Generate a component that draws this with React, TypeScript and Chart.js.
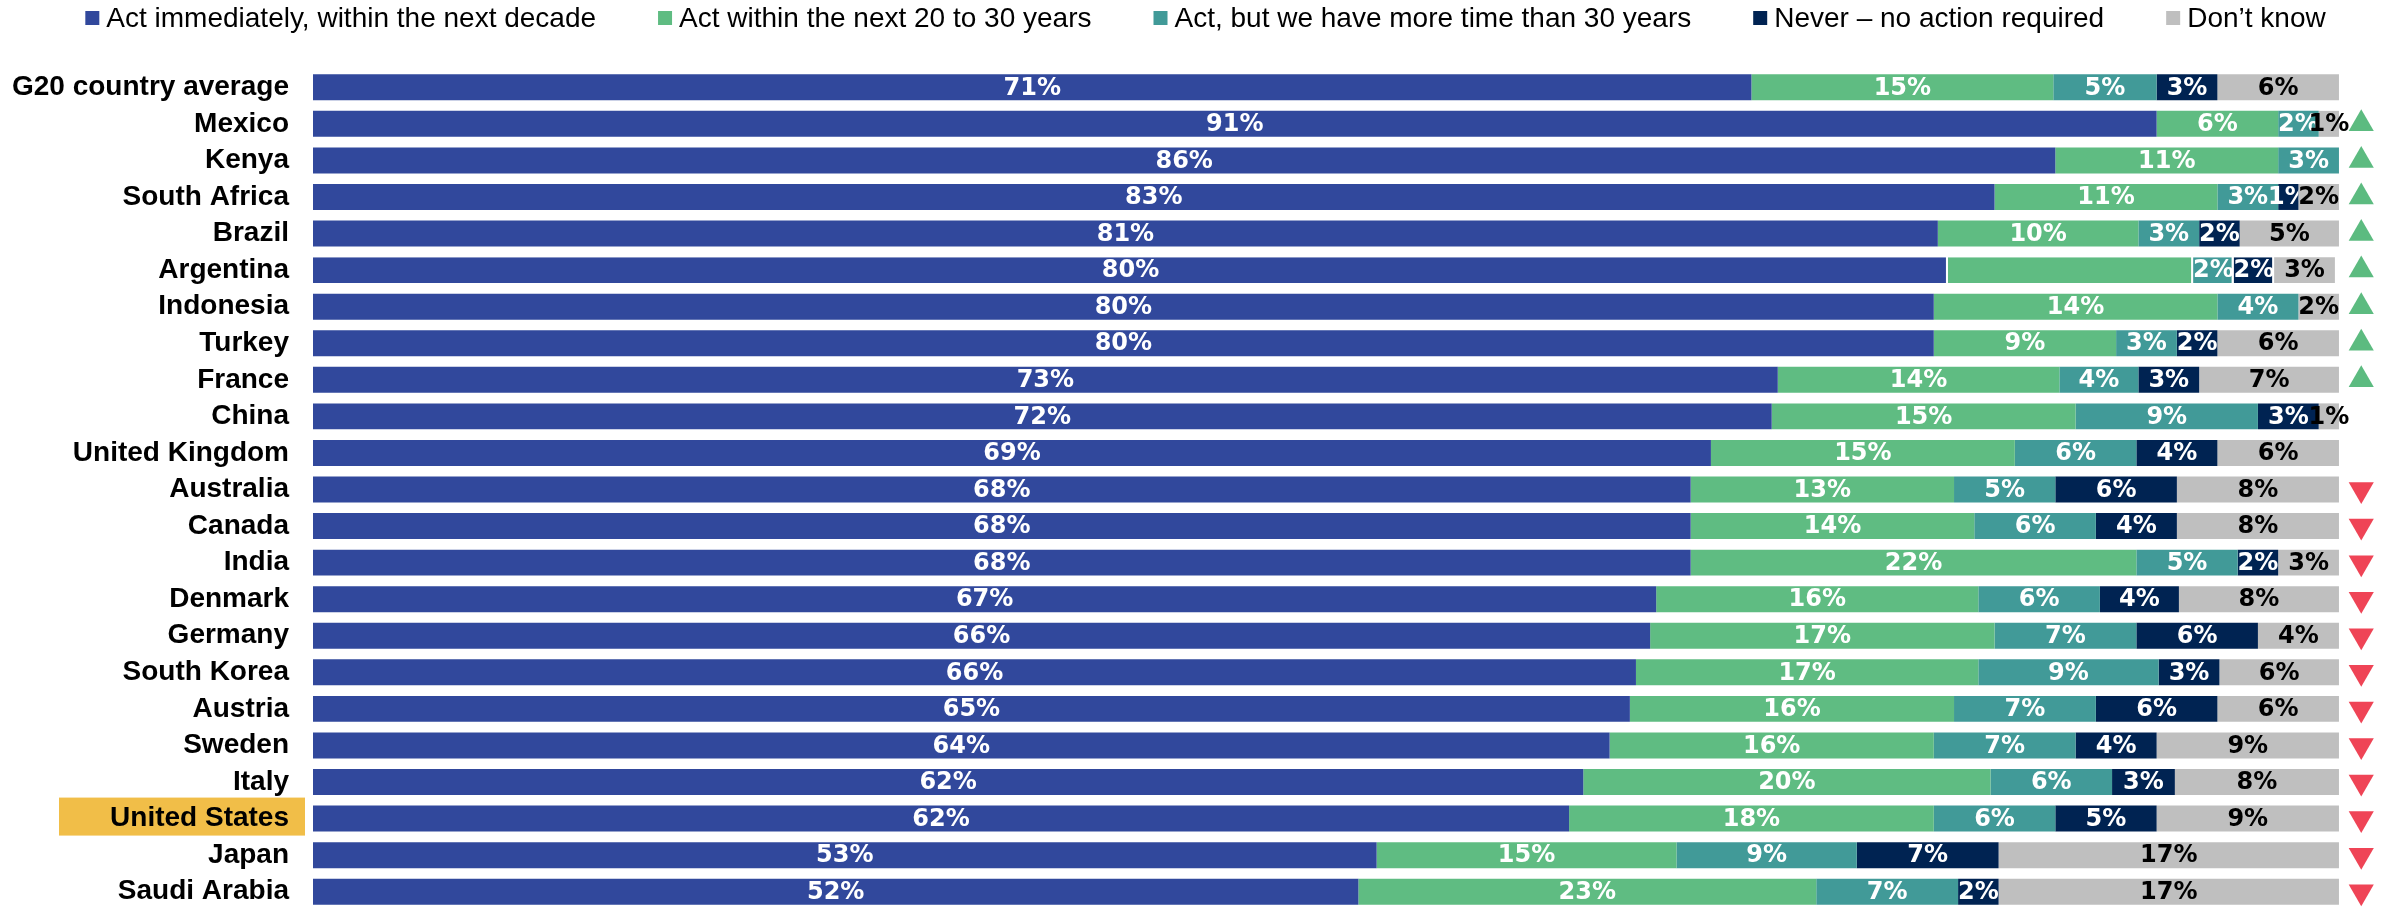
import React, { useEffect, useRef } from "react";
import { Chart, registerables } from "chart.js";

Chart.register(...registerables);

// ---------- data ----------
const countries = [
  "G20 country average",
  "Mexico",
  "Kenya",
  "South Africa",
  "Brazil",
  "Argentina",
  "Indonesia",
  "Turkey",
  "France",
  "China",
  "United Kingdom",
  "Australia",
  "Canada",
  "India",
  "Denmark",
  "Germany",
  "South Korea",
  "Austria",
  "Sweden",
  "Italy",
  "United States",
  "Japan",
  "Saudi Arabia",
];

const seriesNames = [
  "Act immediately, within the next decade",
  "Act within the next 20 to 30 years",
  "Act, but we have more time than 30 years",
  "Never \u2013 no action required",
  "Don\u2019t know",
];

// segment lengths (percent of respondents)
const actNow = [71, 91, 86, 83, 80.2, 80.7, 80, 80, 72.3, 72, 69, 68, 68, 68, 66.3, 66, 65.3, 65, 64, 62.7, 62, 52.5, 51.6];
const act20to30 = [14.9, 6, 11, 11, 9.9, 12.1, 14, 9, 13.9, 15, 15, 13, 14, 22, 15.9, 17, 16.9, 16, 16, 20.1, 18, 14.8, 22.6];
const actLater = [5.1, 2, 3, 3, 3, 2, 4, 3, 3.9, 9, 6, 5, 6, 5, 6, 7, 8.9, 7, 7, 6, 6, 8.9, 7];
const never = [3, 0, 0, 1, 2, 2, 0, 2, 3, 3, 4, 6, 4, 2, 3.9, 6, 3, 6, 4, 3.1, 5, 7, 2];
const dontKnow = [6, 1, 0, 2, 4.9, 3, 2, 6, 6.9, 1, 6, 8, 8, 3, 7.9, 4, 5.9, 6, 9, 8.1, 9, 16.8, 16.8];

// printed labels (null = no label shown)
const actNowLabels = [71, 91, 86, 83, 81, 80, 80, 80, 73, 72, 69, 68, 68, 68, 67, 66, 66, 65, 64, 62, 62, 53, 52];
const act20to30Labels = [15, 6, 11, 11, 10, null, 14, 9, 14, 15, 15, 13, 14, 22, 16, 17, 17, 16, 16, 20, 18, 15, 23];
const actLaterLabels = [5, 2, 3, 3, 3, 2, 4, 3, 4, 9, 6, 5, 6, 5, 6, 7, 9, 7, 7, 6, 6, 9, 7];
const neverLabels = [3, null, null, 1, 2, 2, null, 2, 3, 3, 4, 6, 4, 2, 4, 6, 3, 6, 4, 3, 5, 7, 2];
const dontKnowLabels = [6, 1, null, 2, 5, 3, 2, 6, 7, 1, 6, 8, 8, 3, 8, 4, 6, 6, 9, 8, 9, 17, 17];

// change vs. earlier wave: "up", "down" or ""
const trend = ["", "up", "up", "up", "up", "up", "up", "up", "up", "", "", "down", "down", "down", "down", "down", "down", "down", "down", "down", "down", "down", "down"];

const highlighted = "United States";
const outlinedRow = "Argentina";

// ---------- styling ----------
const seriesValues = [actNow, act20to30, actLater, never, dontKnow];
const seriesLabels = [actNowLabels, act20to30Labels, actLaterLabels, neverLabels, dontKnowLabels];
const seriesColors = ["#31489C", "#5FBC82", "#419A98", "#002352", "#BFBFBF"];
const labelColors = ["#ffffff", "#ffffff", "#ffffff", "#ffffff", "#000000"];
const X_MAX = 102.47; // leaves room on the right for the trend markers
const TREND_X = 101.1;
const UP_COLOR = "#5CBB80";
const DOWN_COLOR = "#EF4456";
const SANS = '"Liberation Sans", Arial, Helvetica, sans-serif';
const LABEL_FONT = 'bold 24px "DejaVu Sans", Verdana, sans-serif';

const highlightPlugin = {
  id: "rowHighlight",
  beforeDraw(chart: any) {
    const idx = countries.indexOf(highlighted);
    if (idx < 0) return;
    const ys = chart.scales.y;
    const cy = ys.getPixelForValue(idx);
    const left = chart.chartArea.left;
    const ctx = chart.ctx;
    ctx.save();
    ctx.fillStyle = "#F1BE48";
    ctx.fillRect(left - 254, cy - 21, 246, 38);
    ctx.restore();
  },
};

const segmentLabelPlugin = {
  id: "segmentLabels",
  afterDatasetsDraw(chart: any) {
    const ctx = chart.ctx;
    ctx.save();
    ctx.font = LABEL_FONT;
    ctx.textAlign = "center";
    ctx.textBaseline = "middle";
    seriesValues.forEach((vals, d) => {
      const meta = chart.getDatasetMeta(d);
      meta.data.forEach((el: any, i: number) => {
        const lab = seriesLabels[d][i];
        if (lab === null || lab === undefined) return;
        const x = el.x;
        const base = el.base;
        const y = el.y;
        const cx = (x + base) / 2;
        const hasNext = seriesValues.slice(d + 1).some((v) => v[i] > 0);
        ctx.save();
        if (hasNext) {
          ctx.beginPath();
          ctx.rect(0, y - 30, x, 60);
          ctx.clip();
        }
        ctx.fillStyle = labelColors[d];
        ctx.fillText(`${lab}%`, cx, y + 1);
        ctx.restore();
      });
    });
    ctx.restore();
  },
};

const legendPlugin = {
  id: "topLegend",
  afterDraw(chart: any) {
    const ctx = chart.ctx;
    ctx.save();
    ctx.font = `28px ${SANS}`;
    ctx.textBaseline = "alphabetic";
    ctx.textAlign = "left";
    const box = 14;
    const gapText = 7;
    const gapItem = 62;
    const widths = seriesNames.map((n) => ctx.measureText(n).width);
    const total = widths.reduce((a, w) => a + box + gapText + w, 0) + gapItem * (seriesNames.length - 1);
    let x = (chart.width - total) / 2 + 11;
    seriesNames.forEach((n, i) => {
      ctx.fillStyle = seriesColors[i];
      ctx.fillRect(x, 11, box, box);
      ctx.fillStyle = "#000000";
      ctx.fillText(n, x + box + gapText, 27);
      x += box + gapText + widths[i] + gapItem;
    });
    ctx.restore();
  },
};

export default function App() {
  const canvasRef = useRef<HTMLCanvasElement | null>(null);

  useEffect(() => {
    if (!canvasRef.current) return;
    const argIdx = countries.indexOf(outlinedRow);

    const barSets = seriesValues.map((vals, d) => ({
      type: "bar" as const,
      label: seriesNames[d],
      data: vals,
      backgroundColor: seriesColors[d],
      borderColor: "#ffffff",
      borderWidth: (c: any) =>
        c.dataIndex === argIdx && d < seriesValues.length - 1
          ? { top: 0, bottom: 0, left: 0, right: 2 }
          : 0,
      borderSkipped: false as const,
      barPercentage: 0.71,
      categoryPercentage: 1,
      stack: "share",
      indexAxis: "y" as const,
    }));

    const trendPoints = countries
      .map((c, i) => (trend[i] ? { x: TREND_X, y: c, dir: trend[i] } : null))
      .filter(Boolean);

    const trendSet: any = {
      type: "line",
      label: "trend",
      data: trendPoints,
      showLine: false,
      indexAxis: "y",
      stack: "trend",
      pointStyle: "triangle",
      pointRadius: 14.5,
      pointHoverRadius: 14.5,
      pointBorderWidth: 0,
      pointRotation: (c: any) => (c.raw && c.raw.dir === "down" ? 180 : 0),
      pointBackgroundColor: (c: any) => (c.raw && c.raw.dir === "down" ? DOWN_COLOR : UP_COLOR),
      clip: false,
    };

    const chart = new Chart(canvasRef.current, {
      type: "bar",
      data: {
        labels: countries,
        datasets: [...barSets, trendSet] as any,
      },
      options: {
        indexAxis: "y",
        responsive: true,
        maintainAspectRatio: false,
        animation: false,
        events: [],
        layout: { autoPadding: false, padding: { top: 69, right: 0, left: 0, bottom: 0 } },
        scales: {
          x: { stacked: true, min: 0, max: X_MAX, display: false },
          y: {
            stacked: true,
            grid: { display: false, drawTicks: false },
            border: { display: false },
            ticks: {
              autoSkip: false,
              padding: 24,
              color: "#000000",
              font: { family: SANS, size: 28, weight: "bold" },
            },
            afterFit: (scale: any) => {
              scale.width = 313;
              scale.paddingTop = 0;
              scale.paddingBottom = 0;
            },
          },
        },
        plugins: {
          legend: { display: false },
          tooltip: { enabled: false },
        },
      } as any,
      plugins: [highlightPlugin, segmentLabelPlugin, legendPlugin],
    });

    return () => chart.destroy();
  }, []);

  return (
    <div style={{ position: "fixed", left: 0, top: 0, width: "100vw", height: 910, background: "#ffffff" }}>
      <canvas ref={canvasRef} />
    </div>
  );
}
